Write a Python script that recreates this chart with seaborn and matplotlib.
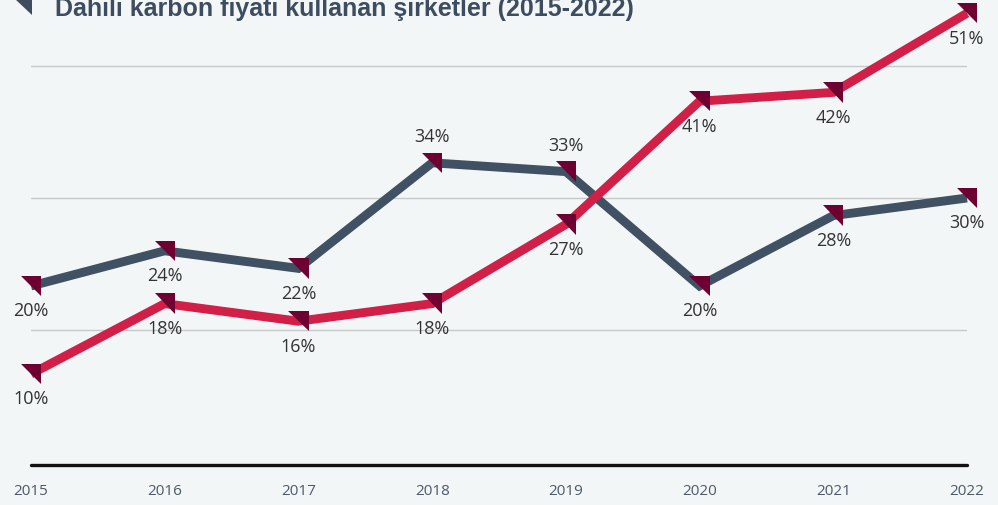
import matplotlib
matplotlib.use("Agg")
import matplotlib.pyplot as plt
from matplotlib.path import Path
from matplotlib.patches import Polygon
import seaborn as sns
import pandas as pd

# Data
years = [2015, 2016, 2017, 2018, 2019, 2020, 2021, 2022]
grey_values = [20, 24, 22, 34, 33, 20, 28, 30]
red_values = [10, 18, 16, 18, 27, 41, 42, 51]
year_labels = ["2015", "2016", "2017", "2018", "2019", "2020", "2021", "2022"]
title = "Dahili karbon fiyatı kullanan şirketler (2015-2022)"

# Label placement (True = above the point)
grey_above = [False, False, False, True, True, False, False, False]
red_above = [False] * 8

BG = "#f3f6f7"
GREY = "#3f5163"
RED = "#d11f47"
MARK = "#6e0032"
TEXT = "#333333"

df = pd.DataFrame({
    "year": years * 2,
    "value": grey_values + red_values,
    "series": ["grey"] * len(years) + ["red"] * len(years),
})

sns.set_theme(style="white")
plt.rcParams["font.family"] = ["Open Sans", "DejaVu Sans"]

W, H = 998, 506
fig = plt.figure(figsize=(W / 100, H / 100), dpi=100, facecolor=BG)
ax = fig.add_axes([31 / W, (H - 463) / H, (967 - 31) / W, 463 / H])
ax.set_facecolor(BG)

ax.set_xlim(2015, 2022)
ax.set_ylim(0, 463 / 8.8)

# gridlines and baseline
for g in (15, 30, 45):
    ax.axhline(g, color="#c6c8ca", lw=1.0, zorder=1)
ax.axhline(-0.3, color="#111111", lw=2.4, zorder=2, clip_on=False)

sns.lineplot(data=df, x="year", y="value", hue="series",
             palette={"grey": GREY, "red": RED}, hue_order=["grey", "red"],
             linewidth=6.4, legend=False, ax=ax, zorder=3,
             solid_joinstyle="miter", solid_capstyle="butt")
for ln in ax.lines[-2:]:
    ln.set_clip_on(False)
ax.lines[-1].set_zorder(4)

# right-angled triangle marker
tri = Path([(-1, 1), (1, 1), (1, -1), (-1, 1)],
           [Path.MOVETO, Path.LINETO, Path.LINETO, Path.CLOSEPOLY])
sns.scatterplot(data=df, x="year", y="value", marker=tri, s=215,
                color=MARK, edgecolor="none", linewidth=0,
                legend=False, ax=ax, zorder=6, clip_on=False)

def add_labels(vals, above):
    for x, v, up in zip(years, vals, above):
        ax.annotate(f"{v}%", (x, v), xytext=(0, 19 if up else -17.5),
                    textcoords="offset points", ha="center", va="center",
                    fontsize=13, color=TEXT, zorder=7,
                    annotation_clip=False)

add_labels(grey_values, grey_above)
add_labels(red_values, red_above)

ax.set_xticks(years)
ax.set_xticklabels(year_labels)
ax.tick_params(axis="x", length=0, pad=15, labelsize=11, labelcolor="#4d5868")
ax.set_yticks([])
ax.set_xlabel("")
ax.set_ylabel("")
for s in ax.spines.values():
    s.set_visible(False)

# title with icon
fig.text(55 / W, 1 - 16 / H, title, fontsize=18, fontweight="bold",
         color="#3d4d5f", family=["Liberation Sans", "DejaVu Sans"],
         ha="left", va="baseline")
fig.patches.append(Polygon([(15 / W, 1.0), (32 / W, 1.0), (32 / W, 1 - 16 / H)],
                           closed=True, transform=fig.transFigure,
                           facecolor="#3d4d5f", edgecolor="none"))

fig.savefig("out.png", dpi=100, facecolor=BG)
